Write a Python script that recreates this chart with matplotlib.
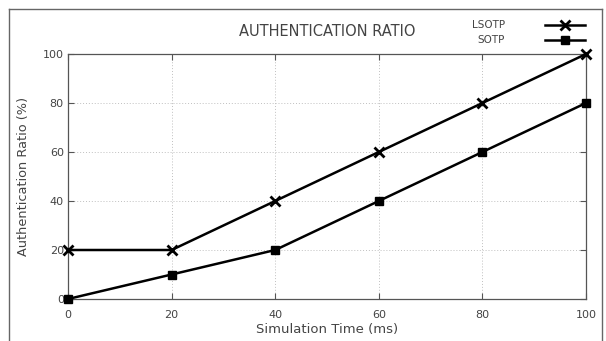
import matplotlib
matplotlib.use('Agg')
import matplotlib.pyplot as plt
from matplotlib.lines import Line2D

# data
sim_time = [0, 20, 40, 60, 80, 100]
lsotp = [20, 20, 40, 60, 80, 100]
sotp = [0, 10, 20, 40, 60, 80]
series_names = ['LSOTP', 'SOTP']
series_markers = ['x', 's']

fig = plt.figure(figsize=(6.06, 3.41), dpi=100)
ax = fig.add_axes([68 / 606, 1 - 299 / 341, (586 - 68) / 606, (299 - 54) / 341])

for vals, m in zip([lsotp, sotp], series_markers):
    ms = 6.5 if m == 'x' else 6
    ax.plot(sim_time, vals, color='black', lw=1.8, marker=m, ms=ms, mew=2 if m == 'x' else 1,
            clip_on=False, zorder=3)

ax.set_xlim(0, 100)
ax.set_ylim(0, 100)
ax.set_xticks(sim_time)
ax.set_yticks([0, 20, 40, 60, 80, 100])
ax.grid(True, color='#c0c0c0', linestyle=(0, (1, 2)), lw=0.7)
ax.tick_params(direction='in', top=True, right=True, length=4, width=0.8, color='#555555',
               labelsize=8, labelcolor='#444444')
ax.tick_params(axis='x', pad=8)
ax.tick_params(axis='y', pad=3)
for s in ax.spines.values():
    s.set_color('#555555')
    s.set_linewidth(0.9)

ax.set_xlabel('Simulation Time (ms)', fontsize=9.5, color='#444444', labelpad=2)
ax.set_ylabel('Authentication Ratio (%)', fontsize=9.3, color='#444444', labelpad=9)
fig.text(327 / 606, 1 - 31 / 341, 'AUTHENTICATION RATIO', ha='center', va='center',
         fontsize=10.5, color='#444444')

# key, gnuplot style: right aligned text then sample line
for i, (name, m) in enumerate(zip(series_names, series_markers)):
    y = 1 - (25 + 15 * i) / 341
    fig.text(505 / 606, y, name, ha='right', va='center', fontsize=7.5, color='#444444')
    fig.add_artist(Line2D([545 / 606, 585 / 606], [y, y], color='black', lw=1.8))
    fig.add_artist(Line2D([565 / 606], [y], color='black', marker=m,
                          ms=6.5 if m == 'x' else 6, mew=2 if m == 'x' else 1))

# outer frame around the picture
fc = '#666666'
fig.add_artist(Line2D([9 / 606, 602 / 606], [1 - 9 / 341, 1 - 9 / 341], color=fc, lw=1))
fig.add_artist(Line2D([9 / 606, 9 / 606], [0, 1 - 9 / 341], color=fc, lw=1))
fig.add_artist(Line2D([602 / 606, 602 / 606], [0, 1 - 9 / 341], color=fc, lw=1))

fig.savefig('out.png', dpi=100)
